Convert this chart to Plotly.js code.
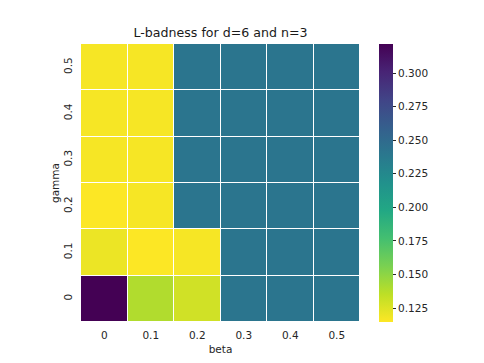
<!DOCTYPE html>
<html>
<head>
<meta charset="utf-8">
<script src="https://cdn.plot.ly/plotly-3.0.1.min.js"></script>
<style>
  html, body { margin: 0; padding: 0; background: white; }
  #chart { width: 484px; height: 363px; }
</style>
</head>
<body>
<div id="chart"></div>
<script>
// L-badness grid, rows = gamma (bottom to top), cols = beta
const betaLabels = ['0', '0.1', '0.2', '0.3', '0.4', '0.5'];
const gammaLabels = ['0', '0.1', '0.2', '0.3', '0.4', '0.5'];

const rowGamma0 = [0.3215, 0.139, 0.129, 0.241, 0.241, 0.241];
const rowGamma1 = [0.120, 0.1148, 0.117, 0.241, 0.241, 0.241];
const rowGamma2 = [0.1148, 0.117, 0.241, 0.241, 0.241, 0.241];
const rowGamma3 = [0.117, 0.117, 0.241, 0.241, 0.241, 0.241];
const rowGamma4 = [0.117, 0.117, 0.241, 0.241, 0.241, 0.241];
const rowGamma5 = [0.117, 0.117, 0.241, 0.241, 0.241, 0.241];

const cbTicks = [0.125, 0.150, 0.175, 0.200, 0.225, 0.250, 0.275, 0.300];

// matplotlib viridis, reversed below
const viridis = [
    [0.0, '#440154'], [0.1, '#482475'], [0.2, '#414487'], [0.3, '#355f8d'],
    [0.4, '#2a788e'], [0.5, '#21918c'], [0.6, '#22a884'], [0.7, '#44bf70'],
    [0.8, '#7ad151'], [0.9, '#bddf26'], [1.0, '#fde725']
];

const font = {family: 'DejaVu Sans', size: 10.5, color: '#262626'};

const trace = {
    type: 'heatmap',
    x: betaLabels,
    y: gammaLabels,
    z: [rowGamma0, rowGamma1, rowGamma2, rowGamma3, rowGamma4, rowGamma5],
    colorscale: viridis,
    reversescale: true,
    zmin: 0.1146,
    zmax: 0.3216,
    xgap: 1,
    ygap: 1,
    hoverinfo: 'skip',
    colorbar: {
        x: 1.068,
        xanchor: 'left',
        y: 0.5,
        yanchor: 'middle',
        len: 1,
        thickness: 14,
        xpad: 0,
        ypad: 0,
        outlinewidth: 0,
        tickvals: cbTicks,
        ticktext: cbTicks.map(v => v.toFixed(3)),
        ticks: 'outside',
        ticklen: 3.5,
        tickcolor: '#262626',
        tickfont: font
    }
};

const layout = {
    width: 484,
    height: 363,
    margin: {l: 81, r: 124, t: 44, b: 41},
    paper_bgcolor: 'white',
    plot_bgcolor: 'white',
    font: font,
    title: {
        text: 'L-badness for d=6 and n=3',
        font: {family: 'DejaVu Sans', size: 12.6, color: '#1a1a1a'},
        xref: 'paper',
        x: 0.5,
        xanchor: 'center',
        y: 1 - 32.5 / 363,
        yanchor: 'middle'
    },
    xaxis: {
        type: 'category',
        title: {text: 'beta', font: font, standoff: 5},
        showgrid: false,
        zeroline: false,
        showline: false,
        ticks: 'outside',
        ticklen: 3.5,
        tickcolor: 'rgba(0,0,0,0)',
        tickfont: font,
        fixedrange: true
    },
    yaxis: {
        type: 'category',
        title: {text: 'gamma', font: font, standoff: 0},
        showgrid: false,
        zeroline: false,
        showline: false,
        ticks: 'outside',
        ticklen: 3.5,
        tickcolor: 'rgba(0,0,0,0)',
        tickfont: font,
        tickangle: -90,
        fixedrange: true
    }
};

Plotly.newPlot('chart', [trace], layout, {displayModeBar: false, staticPlot: true});
</script>
</body>
</html>
